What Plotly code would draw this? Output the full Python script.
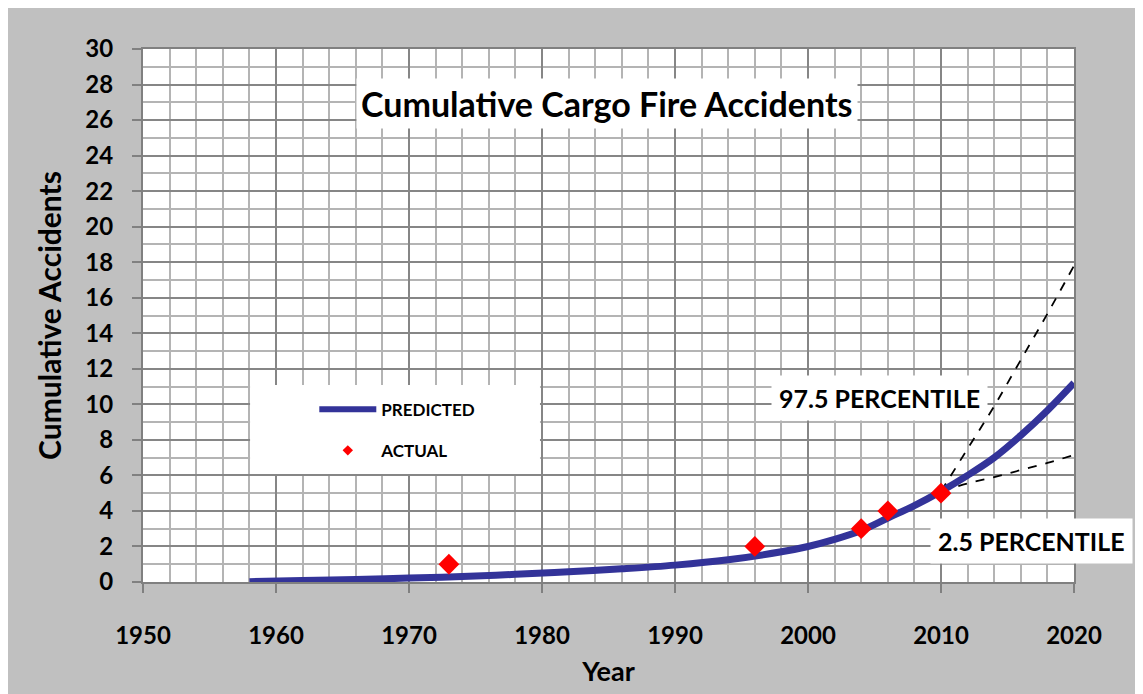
import plotly.graph_objects as go

# ---- data ----
pred_years = [1958, 1962, 1966, 1970, 1974, 1978, 1982, 1986, 1990, 1994, 1998,
              2000, 2002, 2004, 2006, 2008, 2010, 2012, 2014, 2016, 2018, 2020]
pred_vals = [0.02, 0.08, 0.14, 0.22, 0.31, 0.43, 0.57, 0.74, 0.95, 1.25, 1.7,
             2.0, 2.4, 2.9, 3.6, 4.3, 5.1, 6.0, 7.0, 8.25, 9.65, 11.2]

actual_years = [1973, 1996, 2004, 2006, 2010]
actual_vals = [1, 2, 3, 4, 5]

pct_years = [2010, 2012, 2014, 2016, 2018, 2020]
p975_vals = [5.1, 7.5, 9.9, 12.5, 15.1, 17.8]
p025_vals = [5.1, 5.55, 5.9, 6.3, 6.7, 7.15]

x_ticks = [1950, 1960, 1970, 1980, 1990, 2000, 2010, 2020]
y_ticks = list(range(0, 31, 2))

FONT = "Lato"
NAVY = "#333399"

fig = go.Figure()

fig.add_trace(go.Scatter(x=pct_years, y=p975_vals, mode="lines", showlegend=False,
                         line=dict(color="black", width=1.8, dash="dash", shape="spline")))
fig.add_trace(go.Scatter(x=pct_years, y=p025_vals, mode="lines", showlegend=False,
                         line=dict(color="black", width=1.8, dash="dash", shape="spline")))
fig.add_trace(go.Scatter(x=pred_years, y=pred_vals, mode="lines", showlegend=False,
                         line=dict(color=NAVY, width=7, shape="spline")))
fig.add_trace(go.Scatter(x=actual_years, y=actual_vals, mode="markers", showlegend=False,
                         marker=dict(symbol="diamond", size=16, color="#FF0000")))

# legend-only entries
fig.add_trace(go.Scatter(x=[None], y=[None], mode="lines", name="PREDICTED",
                         legendgroup="a", line=dict(color=NAVY, width=6)))
fig.add_trace(go.Scatter(x=[None], y=[None], mode="markers", name="ACTUAL",
                         legendgroup="b", marker=dict(symbol="diamond", size=8, color="#FF0000")))

axis_common = dict(
    showline=True, linecolor="#808080", linewidth=2, mirror=True,
    ticks="outside", ticklen=9, tickwidth=2, tickcolor="#808080",
    showgrid=True, gridcolor="#868686", gridwidth=2,
    zeroline=False,
    tickfont=dict(family=FONT, size=24, color="black", weight="bold"),
)

fig.update_xaxes(
    range=[1950, 2020], tickvals=x_ticks, ticklabelstandoff=22,
    minor=dict(dtick=2, showgrid=True, gridcolor="#B4B4B4", gridwidth=1.5, ticks=""),
    title=dict(text="Year", font=dict(family=FONT, size=27, color="black", weight="bold"), standoff=14),
    **axis_common,
)
fig.update_yaxes(
    range=[0, 30], tickvals=y_ticks, ticklabelstandoff=14,
    minor=dict(dtick=1, showgrid=True, gridcolor="#B4B4B4", gridwidth=1.5, ticks=""),
    title=dict(text="Cumulative Accidents", font=dict(family=FONT, size=30, color="black", weight="bold"), standoff=15),
    **axis_common,
)

fig.update_layout(
    width=1143, height=694,
    margin=dict(l=135, r=77, t=41, b=120, autoexpand=False),
    paper_bgcolor="#C0C0C0", plot_bgcolor="white",
    showlegend=True,
    legend=dict(x=0.184, y=0.357, xanchor="left", yanchor="top",
                bgcolor="rgba(0,0,0,0)", itemwidth=57, traceorder="grouped",
                tracegroupgap=16,
                font=dict(family=FONT, size=17, color="black", weight="bold")),
    shapes=[
        # legend white box
        dict(type="rect", xref="paper", yref="paper", x0=0.115, x1=0.4264, y0=0.2026, y1=0.3696,
             fillcolor="white", line=dict(width=0), layer="above"),
    ],
    annotations=[
        dict(text="Cumulative Cargo Fire Accidents", xref="paper", yref="paper",
             x=0.498, y=0.897, xanchor="center", yanchor="middle",
             showarrow=False, bgcolor="white", borderpad=4,
             font=dict(family=FONT, size=34, color="black", weight="bold")),
        dict(text="97.5 PERCENTILE", xref="x", yref="y", x=2005.34, y=10.38,
             xanchor="center", yanchor="middle",
             showarrow=False, bgcolor="white", borderpad=7,
             font=dict(family=FONT, size=25, color="black", weight="bold")),
        dict(text="2.5 PERCENTILE", xref="x", yref="y", x=2016.77, y=2.31,
             xanchor="center", yanchor="middle",
             showarrow=False, bgcolor="white", borderpad=7,
             font=dict(family=FONT, size=25, color="black", weight="bold")),
    ],
)

fig.write_html("out.html")
